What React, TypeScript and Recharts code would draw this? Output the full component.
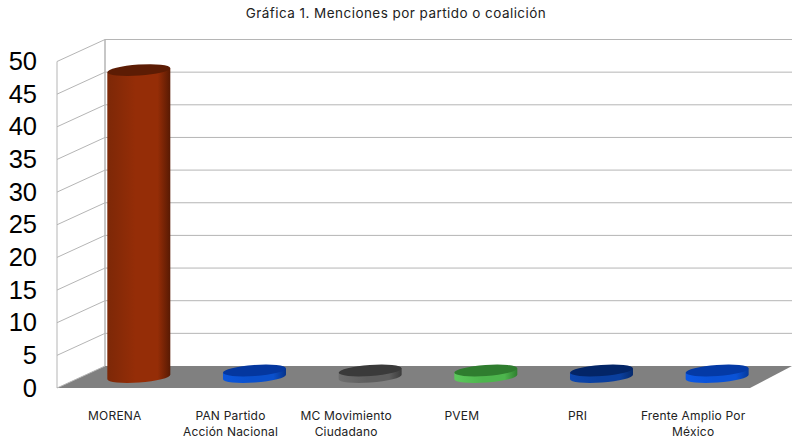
import React from 'react';
import { BarChart, Bar, XAxis, YAxis, CartesianGrid } from 'recharts';

const title = 'Gráfica 1. Menciones por partido o coalición';
const categories = [
  'MORENA',
  'PAN Partido\nAcción Nacional',
  'MC Movimiento\nCiudadano',
  'PVEM',
  'PRI',
  'Frente Amplio Por\nMéxico',
];
const mentions = [47, 1, 1, 1, 1, 1];
const yTicks = [0, 5, 10, 15, 20, 25, 30, 35, 40, 45, 50];

// left / middle / right of the cylinder side, then the lid
const bodyColors = [
  ['#7d2807', '#952d07', '#581a03'],
  ['#0b56dc', '#0a50cc', '#06338a'],
  ['#6e6e6e', '#5e5e5e', '#3c3c3c'],
  ['#5cc95c', '#4db54d', '#2f7f2f'],
  ['#0c46ae', '#0a3f9e', '#062a6c'],
  ['#0b58e6', '#0a52d6', '#063a9c'],
];
const lidColors = ['#5c1c04', '#04379f', '#3a3a3a', '#2f7d2f', '#032567', '#043aa6'];

const chartData = categories.map((name, i) => ({ name, value: mentions[i] }));

const FONT = 'Inter, "Noto Sans", sans-serif';
const GRID = '#b5b5b5';
// half of the 3D depth, in px, around the plane the bars stand on
const DEPTH_X = 24;
const DEPTH_Y = 11;
const TILT = 4;

const GridLine = (props: any) => {
  const { x1, x2, y1, index, y, height } = props;
  const backY = y1 - DEPTH_Y;
  const frontY = y1 + DEPTH_Y;
  const left = x1 - DEPTH_X;
  const back = left + 48;
  const right = x2 + 17;
  const isFloor = index === 0;
  return (
    <g>
      {isFloor && (
        <g>
          <line x1={left} x2={left} y1={y + DEPTH_Y} y2={y + height + DEPTH_Y} stroke={GRID} />
          <line x1={back} x2={back} y1={y - DEPTH_Y} y2={y + height - DEPTH_Y} stroke={GRID} strokeWidth={1.5} />
          <polygon
            points={`${back},${backY} ${right},${backY} ${right - 42},${frontY} ${left},${frontY}`}
            fill="#808080"
          />
        </g>
      )}
      {!isFloor && <line x1={back} x2={right} y1={backY} y2={backY} stroke={GRID} strokeWidth={1} />}
      <line x1={left} x2={back} y1={frontY} y2={backY} stroke={GRID} strokeWidth={1} />
    </g>
  );
};

const Cylinder = (props: any) => {
  const { x, y, width, height, index } = props;
  const rx = width / 2;
  const ry = 5.5;
  const cx = x + rx;
  const bottom = y + height;
  const dy = rx * Math.sin((TILT * Math.PI) / 180);
  const [c0, c1, c2] = bodyColors[index];
  const id = `side-${index}`;
  return (
    <g>
      <defs>
        <linearGradient id={id} x1="0" x2="1" y1="0" y2="0">
          <stop offset="0" stopColor={c0} />
          <stop offset="0.45" stopColor={c1} />
          <stop offset="0.8" stopColor={c1} />
          <stop offset="1" stopColor={c2} />
        </linearGradient>
      </defs>
      <path
        d={`M${cx - rx},${y + dy} L${cx - rx},${bottom + dy} A${rx},${ry} ${-TILT} 0 0 ${cx + rx},${bottom - dy} L${cx + rx},${y - dy} Z`}
        fill={`url(#${id})`}
      />
      <ellipse
        cx={cx}
        cy={y}
        rx={rx}
        ry={ry}
        fill={lidColors[index]}
        transform={`rotate(${-TILT} ${cx} ${y})`}
      />
    </g>
  );
};

const YTick = (props: any) => {
  const { y, payload } = props;
  return (
    <text
      x={37}
      y={y + DEPTH_Y + 8.5}
      textAnchor="end"
      fontFamily='"Liberation Sans", Arial, sans-serif'
      fontSize={25.5}
      fill="#000"
    >
      {payload.value}
    </text>
  );
};

const XTick = (props: any) => {
  const { x, y, payload } = props;
  const lines = String(payload.value).split('\n');
  return (
    <text textAnchor="middle" fontFamily={FONT} fontSize={12} letterSpacing={0.2} fill="#222">
      {lines.map((line, i) => (
        <tspan key={line} x={x - DEPTH_X} y={y + 35 + i * 15.5}>
          {line}
        </tspan>
      ))}
    </text>
  );
};

export default function App() {
  return (
    <div style={{ position: 'absolute', left: 0, top: 0, width: 792, height: 438, background: '#fff' }}>
      <div
        style={{
          position: 'absolute',
          left: 0,
          top: 6,
          width: 792,
          textAlign: 'center',
          fontFamily: FONT,
          fontSize: 13.5,
          letterSpacing: 0.45,
          lineHeight: '15px',
          color: '#222',
        }}
      >
        {title}
      </div>
      <BarChart
        width={792}
        height={438}
        data={chartData}
        margin={{ top: 50.5, right: 17, bottom: 0, left: 0 }}
        barCategoryGap="22.75%"
      >
        <CartesianGrid vertical={false} horizontal={(p: any) => <GridLine {...p} />} />
        <XAxis
          dataKey="name"
          interval={0}
          height={61}
          axisLine={false}
          tickLine={false}
          tick={(p: any) => <XTick {...p} />}
        />
        <YAxis
          width={81}
          domain={[0, 50]}
          ticks={yTicks}
          interval={0}
          axisLine={false}
          tickLine={false}
          tick={(p: any) => <YTick {...p} />}
        />
        <Bar dataKey="value" isAnimationActive={false} shape={(p: any) => <Cylinder {...p} />} />
      </BarChart>
    </div>
  );
}
